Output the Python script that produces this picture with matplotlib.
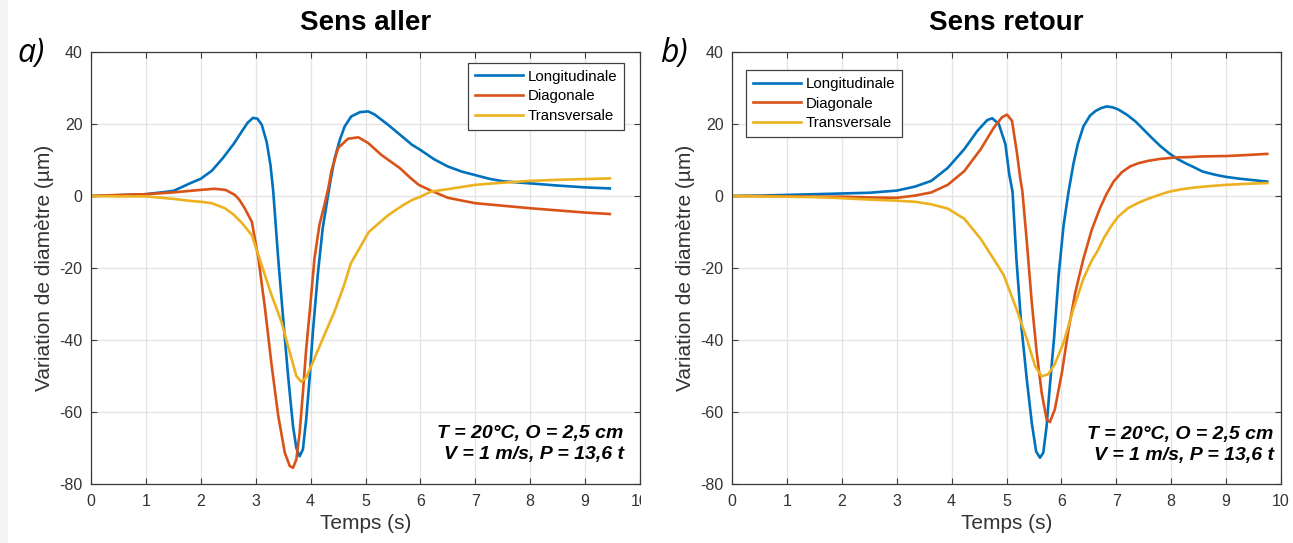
import matplotlib
matplotlib.use("Agg")
import matplotlib.pyplot as plt
from matplotlib.patches import Rectangle
from matplotlib.transforms import Bbox, TransformedBbox

plt.rcParams['font.family'] = ['Liberation Sans', 'DejaVu Sans']
plt.rcParams['axes.unicode_minus'] = False

# ---- Sens aller ----
t_aller_long = [0, 0.5, 1.0, 1.5, 1.8, 2.0, 2.2, 2.4, 2.6, 2.75, 2.85, 2.95, 3.03, 3.11,
                3.2, 3.27, 3.32, 3.41, 3.50, 3.59, 3.68, 3.74, 3.80, 3.86, 3.92, 3.98,
                4.04, 4.13, 4.22, 4.30, 4.37, 4.44, 4.53, 4.62, 4.74, 4.90, 5.05, 5.17,
                5.41, 5.63, 5.85, 6.0, 6.25, 6.5, 6.75, 7.0, 7.25, 7.5, 8.0, 8.5, 9.0, 9.45]
v_aller_long = [0, 0.2, 0.5, 1.4, 3.5, 4.8, 7.0, 10.5, 14.5, 18.0, 20.3, 21.7, 21.5, 19.8,
                15.0, 8.5, 1.2, -17.4, -34, -50, -64, -70, -72.3, -70.4, -62, -51,
                -38, -22, -9, -1.5, 5, 10.5, 15.5, 19.3, 22.1, 23.3, 23.5, 22.6,
                19.8, 17.0, 14.2, 12.8, 10.2, 8.2, 6.8, 5.8, 4.8, 4.1, 3.5, 2.9, 2.4, 2.1]

t_aller_diag = [0, 0.5, 1.0, 1.5, 2.0, 2.25, 2.45, 2.62, 2.7, 2.8, 2.93, 3.05, 3.17, 3.29,
                3.41, 3.53, 3.62, 3.68, 3.74, 3.80, 3.86, 3.92, 4.0, 4.07, 4.16, 4.26,
                4.32, 4.38, 4.50, 4.68, 4.87, 5.05, 5.29, 5.63, 5.82, 5.97, 6.19, 6.5,
                7.0, 7.5, 8.0, 8.5, 9.0, 9.45]
v_aller_diag = [0, 0.3, 0.5, 1.0, 1.7, 2.0, 1.7, 0.3, -1.0, -3.4, -7.2, -17.4, -31.3, -47,
                -61, -71.3, -75, -75.5, -73.2, -65.8, -54.6, -42.5, -29.5, -17.4, -8.1, -2,
                2, 7, 13.3, 15.9, 16.3, 14.7, 11.4, 7.7, 5.0, 3.1, 1.5, -0.5,
                -2.0, -2.7, -3.4, -4.0, -4.6, -5.0]

t_aller_trans = [0, 0.5, 1.0, 1.5, 1.83, 2.0, 2.2, 2.44, 2.6, 2.75, 2.93, 3.11, 3.29, 3.47,
                 3.62, 3.74, 3.83, 3.92, 4.04, 4.22, 4.43, 4.61, 4.73, 4.88, 5.06, 5.24,
                 5.4, 5.55, 5.7, 5.85, 6.0, 6.19, 6.5, 7.0, 7.5, 8.0, 8.5, 9.0, 9.45]
v_aller_trans = [0, -0.1, -0.1, -0.8, -1.4, -1.6, -2.0, -3.4, -5.2, -7.5, -10.9, -19.3, -27.6, -35,
                 -43.4, -50, -51.6, -50.4, -46.2, -39.7, -32.3, -24.8, -18.8, -14.8, -10, -7.6,
                 -5.5, -3.9, -2.4, -1.1, -0.2, 1.2, 1.9, 3.1, 3.7, 4.2, 4.5, 4.7, 4.9]

# ---- Sens retour ----
t_retour_long = [0, 0.5, 1.0, 1.5, 2.0, 2.5, 3.0, 3.33, 3.63, 3.93, 4.23, 4.47, 4.65, 4.74,
                 4.86, 4.98, 5.05, 5.11, 5.18, 5.27, 5.37, 5.46, 5.54, 5.61, 5.67, 5.73,
                 5.79, 5.87, 5.95, 6.04, 6.13, 6.22, 6.3, 6.4, 6.52, 6.62, 6.72, 6.83,
                 6.94, 7.04, 7.2, 7.35, 7.5, 7.65, 7.8, 7.96, 8.1, 8.26, 8.4, 8.57, 8.8,
                 9.0, 9.25, 9.5, 9.75]
v_retour_long = [0, 0.1, 0.3, 0.5, 0.7, 0.9, 1.5, 2.6, 4.2, 7.8, 13.0, 18.1, 21.1, 21.6,
                 20.0, 14.4, 6.0, 1.2, -17.4, -36, -51, -63, -71, -72.7, -71.3, -64,
                 -52.7, -38.8, -22, -8.1, 1.2, 9, 14.5, 19.3, 22.3, 23.6, 24.4, 24.9,
                 24.6, 24.0, 22.5, 20.7, 18.4, 16.1, 13.9, 11.9, 10.4, 9.1, 8.1, 6.8, 5.9,
                 5.3, 4.8, 4.4, 4.0]

t_retour_diag = [0, 0.5, 1.0, 1.5, 2.0, 2.5, 3.0, 3.33, 3.63, 3.93, 4.23, 4.53, 4.77, 4.92,
                 5.01, 5.1, 5.19, 5.25, 5.29, 5.37, 5.46, 5.55, 5.64, 5.73, 5.79, 5.88,
                 6.01, 6.13, 6.25, 6.4, 6.55, 6.7, 6.82, 6.95, 7.1, 7.25, 7.4, 7.59, 7.8,
                 8.08, 8.3, 8.57, 9.0, 9.4, 9.75]
v_retour_diag = [0, 0, -0.1, -0.2, -0.2, -0.4, -0.5, 0.1, 1.0, 3.1, 6.9, 13.0, 19.0, 21.9,
                 22.6, 20.9, 12.0, 5.0, 1.2, -12.7, -29.5, -43.4, -54.6, -62, -62.8, -59.3,
                 -49, -37, -27, -17.5, -9.5, -3.5, 0.5, 4.0, 6.6, 8.2, 9.1, 9.8, 10.3,
                 10.7, 10.8, 11.0, 11.1, 11.4, 11.7]

t_retour_trans = [0, 0.5, 1.0, 1.5, 2.0, 2.5, 3.0, 3.33, 3.63, 3.93, 4.23, 4.53, 4.77, 4.95,
                  5.18, 5.37, 5.52, 5.64, 5.76, 5.88, 6.04, 6.22, 6.4, 6.55, 6.65, 6.78,
                  6.9, 7.03, 7.21, 7.4, 7.59, 7.78, 7.96, 8.2, 8.45, 8.75, 9.0, 9.4, 9.75]
v_retour_trans = [0, -0.1, -0.2, -0.3, -0.6, -1.0, -1.3, -1.6, -2.3, -3.5, -6.3, -11.9, -17.6, -22.0,
                  -31.3, -39.7, -47.2, -50.1, -49.5, -46.7, -40.7, -31.3, -23, -18, -15.5, -11.5,
                  -8.5, -5.8, -3.4, -1.9, -0.7, 0.3, 1.2, 1.9, 2.4, 2.8, 3.1, 3.4, 3.6]

series_names = ['Longitudinale', 'Diagonale', 'Transversale']
series_colors = ['#0072BD', '#D95319', '#EDB120']
panel_titles = ['Sens aller', 'Sens retour']
panel_letters = ['a)', 'b)']
conditions = 'T = 20°C, O = 2,5 cm\nV = 1 m/s, P = 13,6 t'
x_ticks = [0, 1, 2, 3, 4, 5, 6, 7, 8, 9, 10]
y_ticks = [-80, -60, -40, -20, 0, 20, 40]

panels = [
    [(t_aller_long, v_aller_long), (t_aller_diag, v_aller_diag), (t_aller_trans, v_aller_trans)],
    [(t_retour_long, v_retour_long), (t_retour_diag, v_retour_diag), (t_retour_trans, v_retour_trans)],
]

W, H = 1293, 543
fig = plt.figure(figsize=(W / 100, H / 100), dpi=100)
fig.patches.append(Rectangle((0, 0), 8 / W, 1, transform=fig.transFigure,
                             facecolor='#f3f4f6', edgecolor='none', zorder=0))

axes_px = [(91, 640), (732, 1281)]
top_px, bot_px = 52, 484
legend_anchor = [('upper right', (0.971, 0.975)), ('upper left', (0.026, 0.958))]
text_anchor = [(0.970, 0.093), (0.987, 0.091)]
letter_x = [17, 660]

axis_col = '#3a3a3a'
for i, (ax_l, ax_r) in enumerate(axes_px):
    ax = fig.add_axes([ax_l / W, 1 - bot_px / H, (ax_r - ax_l) / W, (bot_px - top_px) / H])
    for (t, v), name, col in zip(panels[i], series_names, series_colors):
        ax.plot(t, v, color=col, lw=1.9, label=name, solid_joinstyle='round')
    ax.set_xlim(0, 10)
    ax.set_ylim(-80, 40)
    ax.set_xticks(x_ticks)
    ax.set_yticks(y_ticks)
    ax.grid(True, color='#e3e3e3', lw=0.9)
    ax.set_axisbelow(True)
    ax.tick_params(direction='in', length=4, width=0.8, color=axis_col,
                   top=True, right=True, labelsize=11.5, labelcolor='#333333')
    ax.tick_params(axis='x', pad=7)
    ax.tick_params(axis='y', pad=6)
    for sp in ax.spines.values():
        sp.set_color(axis_col)
        sp.set_linewidth(0.9)
    ax.set_xlabel('Temps (s)', fontsize=15, color='#333333', labelpad=4)
    ax.set_ylabel('Variation de diamètre (µm)', fontsize=15, color='#333333', labelpad=4)
    ax.set_title(panel_titles[i], fontsize=20, fontweight='bold', pad=15.5)
    loc, anchor = legend_anchor[i]
    leg = ax.legend(loc=loc, bbox_to_anchor=anchor, borderaxespad=0, fontsize=10.8,
                    handlelength=3.2, handletextpad=0.3, labelspacing=0.38,
                    borderpad=0.45, fancybox=False, framealpha=1)
    leg.get_frame().set_edgecolor('#404040')
    leg.get_frame().set_linewidth(0.9)
    tx, ty = text_anchor[i]
    ax.text(tx, ty, conditions, transform=ax.transAxes, ha='right', va='center',
            fontsize=14, fontweight='bold', fontstyle='italic', linespacing=1.3)
    fig.text(letter_x[i] / W, 1 - 62 / H, panel_letters[i], fontsize=23,
             fontstyle='italic', family=['Open Sans', 'DejaVu Sans'], va='baseline')
    if i == 0:
        # the left panel's last tick label is cut at the panel boundary
        clip = TransformedBbox(Bbox([[0, 0], [641 / W, 1]]), fig.transFigure)
        for lab in ax.get_xticklabels():
            lab.set_clip_box(clip)
            lab.set_clip_on(True)

fig.savefig('out.png', dpi=100)
